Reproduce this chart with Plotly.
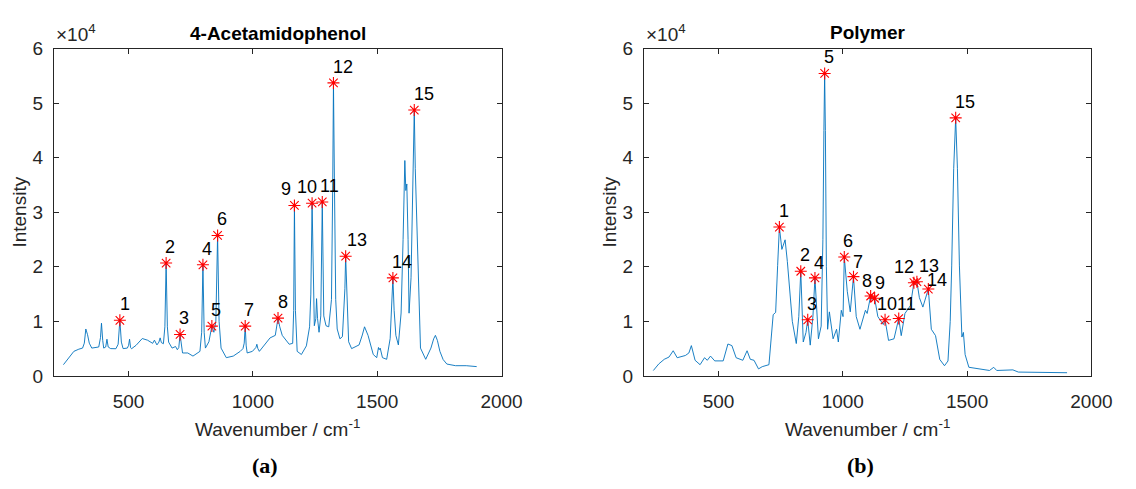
import plotly.graph_objects as go

# ---------------- data: 4-Acetamidophenol spectrum ----------------
acet_wn = [238, 255, 280, 300, 315, 322, 328, 335, 342, 352, 380, 387, 391, 396, 400, 408, 413, 418, 428, 449,
           458, 465, 471, 478, 495, 500, 504, 508, 512, 530, 555, 576, 597, 604, 614, 622, 627, 632, 640, 646,
           651, 656, 661, 675, 689, 696, 702, 707, 712, 717, 738, 759, 787, 794, 799, 804, 809, 823, 835, 843,
           851, 858, 864, 872, 893, 921, 949, 960, 965, 969, 973, 977, 998, 1012, 1016, 1020, 1026, 1050, 1069, 1090,
           1095, 1101, 1108, 1118, 1146, 1160, 1164, 1167, 1171, 1178, 1195, 1215, 1228, 1233, 1238, 1243, 1247, 1253, 1256, 1260,
           1266, 1273, 1279, 1285, 1294, 1305, 1316, 1321, 1324, 1328, 1333, 1339, 1350, 1360, 1366, 1370, 1373, 1377, 1385, 1397,
           1427, 1440, 1449, 1463, 1484, 1498, 1505, 1508, 1512, 1521, 1538, 1552, 1558, 1563, 1568, 1575, 1585, 1596, 1604, 1611,
           1615, 1619, 1624, 1628, 1636, 1640, 1645, 1649, 1653, 1660, 1667, 1674, 1695, 1716, 1727, 1734, 1742, 1752, 1765, 1780,
           1815, 1858, 1900]
acet_int = [2050, 3000, 4500, 4900, 5100, 6000, 8600, 7550, 6000, 5100, 5300, 7000, 9660, 6500, 5100, 5300, 6730, 5300, 5000, 4980,
            5800, 10200, 6200, 5000, 5100, 5600, 6730, 5200, 4980, 5600, 6850, 6550, 5970, 6550, 5680, 6200, 6970, 6100, 5900, 9000,
            20700, 9000, 6200, 5100, 5390, 4800, 5200, 7600, 5200, 4200, 4200, 3630, 4500, 8000, 20370, 8000, 5100, 6260, 9130, 8000,
            10000, 25760, 10000, 5100, 3340, 3630, 4500, 5000, 6000, 9130, 5500, 4200, 4500, 5200, 5800, 5000, 4500, 5800, 6970, 7430,
            9000, 10600, 9000, 7430, 5800, 5970, 12000, 31260, 12000, 4500, 3920, 5500, 9000, 15000, 31670, 15000, 9200, 10500, 14170, 10500,
            8000, 11000, 31900, 11000, 9200, 9000, 14000, 35000, 53740, 35000, 14000, 8600, 6800, 7200, 12000, 16000, 21950, 16000, 6260, 5000,
            5680, 7500, 9000, 7430, 3920, 3340, 5210, 4800, 5090, 3340, 3040, 6850, 12000, 17970, 12000, 7430, 5680, 11530, 25000, 39500,
            34000, 35200, 25000, 11500, 18000, 26170, 38000, 48760, 38000, 26170, 12000, 5100, 3040, 5100, 6800, 7430, 6500, 4500, 3000, 2170,
            1870, 1870, 1700]

acet_peak_wn = [465, 651, 707, 799, 835, 858, 969, 1101, 1167, 1238, 1279, 1324, 1373, 1563, 1649]
acet_peak_int = [10200, 20700, 7600, 20370, 9130, 25760, 9130, 10600, 31260, 31670, 31900, 53740, 21950, 17970, 48760]
acet_labels = [str(i) for i in range(1, 16)]

# ---------------- data: Polymer spectrum ----------------
poly_wn = [238, 260, 282, 301, 318, 334, 367, 381, 391, 406, 426, 444, 455, 468, 485, 519, 538, 554, 571, 598,
           615, 628, 643, 661, 676, 703, 720, 730, 738, 745, 755, 768, 777, 788, 797, 813, 823, 831, 841, 852,
           859, 869, 880, 888, 902, 913, 920, 924, 927, 930, 934, 939, 946, 961, 975, 982, 994, 1001, 1006, 1018,
           1030, 1043, 1054, 1069, 1091, 1098, 1112, 1119, 1128, 1141, 1163, 1170, 1184, 1206, 1216, 1225, 1235, 1250, 1272, 1286,
           1298, 1308, 1322, 1344, 1356, 1373, 1390, 1409, 1423, 1432, 1438, 1446, 1454, 1461, 1469, 1476, 1479, 1485, 1492, 1507,
           1561, 1590, 1607, 1619, 1684, 1706, 1902]
poly_int = [980, 2200, 3040, 3450, 4610, 3330, 3740, 4200, 5550, 2860, 2050, 3330, 2860, 3630, 2750, 2750, 5850, 5550, 3330, 2860,
            4610, 3040, 2860, 1280, 1690, 2050, 11230, 11640, 20280, 27300, 23200, 24960, 21000, 14440, 10000, 5930, 10870, 19190, 6220, 7970,
            10290, 5640, 11000, 17970, 6800, 9130, 25000, 45000, 55470, 45000, 20000, 8550, 11740, 6800, 8550, 6220, 12030, 10870, 21800, 15520,
            11740, 18200, 10870, 8550, 12030, 11450, 14650, 13780, 14240, 10870, 9420, 10290, 6510, 6800, 8550, 10520, 7380, 11450, 12900, 17090,
            17270, 14360, 12620, 15930, 8550, 7380, 3020, 1860, 2730, 10000, 20170, 38000, 47330, 38000, 20170, 9000, 7120, 7970, 3900, 1580,
            1160, 990, 1570, 990, 1100, 700, 580]

poly_peak_wn = [745, 831, 859, 888, 927, 1006, 1043, 1112, 1128, 1170, 1225, 1286, 1298, 1344, 1454]
poly_peak_int = [27300, 19190, 10290, 17970, 55470, 21800, 18200, 14650, 14240, 10290, 10520, 17090, 17270, 15930, 47330]
poly_labels = [str(i) for i in range(1, 16)]

y_tick_vals = [0, 10000, 20000, 30000, 40000, 50000, 60000]
y_tick_text = ["0", "1", "2", "3", "4", "5", "6"]
x_tick_vals = [500, 1000, 1500, 2000]
x_tick_text = ["500", "1000", "1500", "2000"]

# label pixel nudges (styling)
acet_dx = [-1, -2, -2, -2, -2, -2, -2, -1, -14, -16, -3, -1, 0, -2, -1]
acet_dy = [16] * 15
poly_dx = [-1, -2, -2, -2, -2, -2, -1, -10, -1, -9, -3, -21, 1, -2, -2]
poly_dy = [16, 16, 16, 15, 16, 16, 15, 15, 15, 16, 15, 16, 16, 9, 16]

W, H = 1136, 489
FONT = "Liberation Sans, Arial, Helvetica, sans-serif"
AX = "#262626"
LINE = "#0072BD"
RED = "#FF0000"

fig = go.Figure()

fig.add_trace(go.Scatter(x=acet_wn, y=acet_int, mode="lines",
                         line=dict(color=LINE, width=0.9), xaxis="x", yaxis="y", showlegend=False))
fig.add_trace(go.Scatter(x=acet_peak_wn, y=acet_peak_int, mode="markers",
                         marker=dict(symbol="asterisk-open", size=10, color=RED, line=dict(color=RED, width=1.1)),
                         xaxis="x", yaxis="y", showlegend=False))
fig.add_trace(go.Scatter(x=poly_wn, y=poly_int, mode="lines",
                         line=dict(color=LINE, width=0.9), xaxis="x2", yaxis="y2", showlegend=False))
fig.add_trace(go.Scatter(x=poly_peak_wn, y=poly_peak_int, mode="markers",
                         marker=dict(symbol="asterisk-open", size=10, color=RED, line=dict(color=RED, width=1.1)),
                         xaxis="x2", yaxis="y2", showlegend=False))

# axes geometry in pixels
L1, R1 = 55, 511
L2, R2 = 656, 1112
TOP, BOT = 40.5, 382.3

def px(v):
    return v / W

def py(v):
    return (H - v) / H

common_x = dict(range=[200, 2000], tickvals=x_tick_vals, ticktext=x_tick_text,
                showline=True, linecolor=AX, linewidth=1, mirror="allticks",
                ticks="inside", ticklen=5, tickcolor=AX, tickwidth=1,
                showgrid=False, zeroline=False,
                tickfont=dict(family=FONT, size=19, color=AX), ticklabelstandoff=8)
common_y = dict(range=[0, 60000], tickvals=y_tick_vals, ticktext=y_tick_text,
                showline=True, linecolor=AX, linewidth=1, mirror="allticks",
                ticks="inside", ticklen=5, tickcolor=AX, tickwidth=1,
                showgrid=False, zeroline=False,
                tickfont=dict(family=FONT, size=19, color=AX), ticklabelstandoff=6)

fig.update_layout(
    width=W, height=H,
    margin=dict(l=0, r=0, t=0, b=0),
    paper_bgcolor="white", plot_bgcolor="white",
    xaxis=dict(domain=[px(L1), px(R1)], anchor="y", **common_x),
    yaxis=dict(domain=[py(BOT), py(TOP)], anchor="x", **common_y),
    xaxis2=dict(domain=[px(L2), px(R2)], anchor="y2", **common_x),
    yaxis2=dict(domain=[py(BOT), py(TOP)], anchor="x2", **common_y),
)

ann = []
for i in range(15):
    ann.append(dict(x=acet_peak_wn[i], y=acet_peak_int[i], xref="x", yref="y", text=acet_labels[i],
                    showarrow=False, xanchor="left", yanchor="middle", xshift=acet_dx[i], yshift=acet_dy[i],
                    borderpad=0, font=dict(family=FONT, size=18, color="black")))
    ann.append(dict(x=poly_peak_wn[i], y=poly_peak_int[i], xref="x2", yref="y2", text=poly_labels[i],
                    showarrow=False, xanchor="left", yanchor="middle", xshift=poly_dx[i], yshift=poly_dy[i],
                    borderpad=0, font=dict(family=FONT, size=18, color="black")))

for (l, r, title, ty, sub, subx) in [(L1, R1, "4-Acetamidophenol", 25, "(a)", 270),
                                     (L2, R2, "Polymer", 23.5, "(b)", 877)]:
    cx = (l + r) / 2
    ann.append(dict(x=px(cx), y=py(ty), xref="paper", yref="paper", text="<b>%s</b>" % title,
                    showarrow=False, xanchor="center", yanchor="middle",
                    font=dict(family=FONT, size=19, color="black")))
    ann.append(dict(x=px(l), y=py(TOP), xref="paper", yref="paper", text="×10<sup>4</sup>",
                    showarrow=False, xanchor="left", yanchor="bottom", yshift=2,
                    font=dict(family=FONT, size=19, color=AX)))
    ann.append(dict(x=px(cx), y=py(437), xref="paper", yref="paper",
                    text="Wavenumber / cm<sup>-1</sup>",
                    showarrow=False, xanchor="center", yanchor="middle",
                    font=dict(family=FONT, size=19, color=AX)))
    ann.append(dict(x=px(l - 35), y=py(211), xref="paper", yref="paper", text="Intensity",
                    showarrow=False, xanchor="center", yanchor="middle", textangle=-90,
                    font=dict(family=FONT, size=19, color=AX)))
    ann.append(dict(x=px(subx), y=py(476), xref="paper", yref="paper", text="<b>%s</b>" % sub,
                    showarrow=False, xanchor="center", yanchor="middle",
                    font=dict(family="Liberation Serif, Times New Roman, serif", size=22, color="black")))

fig.update_layout(annotations=ann)
fig.write_html("out.html")
